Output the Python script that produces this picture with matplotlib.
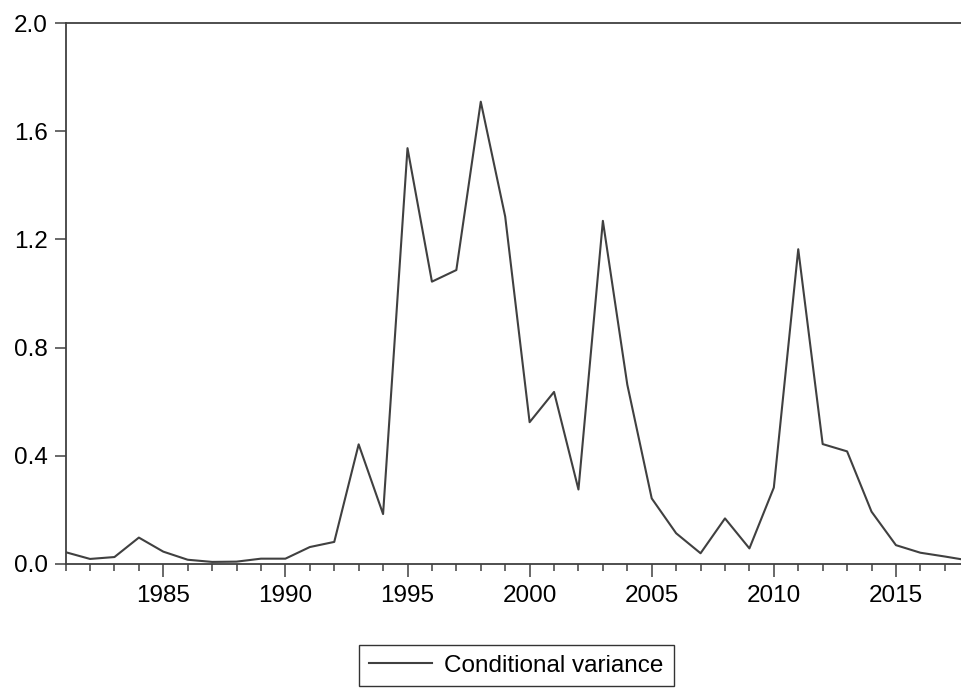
import numpy as np
import matplotlib
matplotlib.use("Agg")
import matplotlib.pyplot as plt
from matplotlib.ticker import MultipleLocator

# yearly conditional variance
years = list(range(1981, 2019))
cond_var = [0.043, 0.018, 0.025, 0.097, 0.045, 0.015, 0.007, 0.008, 0.019, 0.019,
            0.062, 0.081, 0.442, 0.184, 1.538, 1.044, 1.087, 1.710, 1.285, 0.524,
            0.636, 0.275, 1.269, 0.663, 0.242, 0.113, 0.039, 0.168, 0.057, 0.282,
            1.164, 0.443, 0.416, 0.193, 0.069, 0.041, 0.027, 0.012]
y_ticks = [0.0, 0.4, 0.8, 1.2, 1.6, 2.0]
x_ticks = [1985, 1990, 1995, 2000, 2005, 2010, 2015]

plt.rcParams['font.family'] = ['Liberation Sans', 'DejaVu Sans']

W, H = 962, 688
fig = plt.figure(figsize=(W / 100, H / 100), dpi=100)
# axes runs past the right edge of the figure, like the cropped original
left, right = 65.6, 969.2
top, bottom = 23.3, 563.8
ax = fig.add_axes([left / W, 1 - bottom / H, (right - left) / W, (bottom - top) / H])

line_col = '#404040'
fs = 17.5
ax.plot(years, cond_var, color=line_col, lw=1.5, label='Conditional variance')

ax.set_xlim(1981, 2018)
ax.set_ylim(0, 2.0)
ax.set_yticks(y_ticks)
ax.set_yticklabels(['%.1f' % v for v in y_ticks])
ax.set_xticks(x_ticks)
ax.set_xticklabels([str(v) for v in x_ticks])
ax.xaxis.set_minor_locator(MultipleLocator(1))

for s in ['left', 'top', 'bottom']:
    ax.spines[s].set_color(line_col)
    ax.spines[s].set_linewidth(1.3)
ax.spines['right'].set_visible(False)

ax.tick_params(axis='y', direction='out', length=8, width=1.1, color=line_col,
               labelsize=fs, pad=5)
ax.tick_params(axis='x', which='major', direction='out', length=9, width=1.1,
               color=line_col, labelsize=fs, pad=6.5)
ax.tick_params(axis='x', which='minor', direction='out', length=5, width=1.1,
               color=line_col)

leg = fig.legend(loc='upper center', bbox_to_anchor=(516.5 / W, 1 - 645 / H),
                 fontsize=fs, frameon=True, fancybox=False, handlelength=2.6,
                 borderpad=0.4, handletextpad=0.5, borderaxespad=0)
leg.get_frame().set_edgecolor('black')
leg.get_frame().set_linewidth(1.0)

fig.savefig('out.png', dpi=100)
